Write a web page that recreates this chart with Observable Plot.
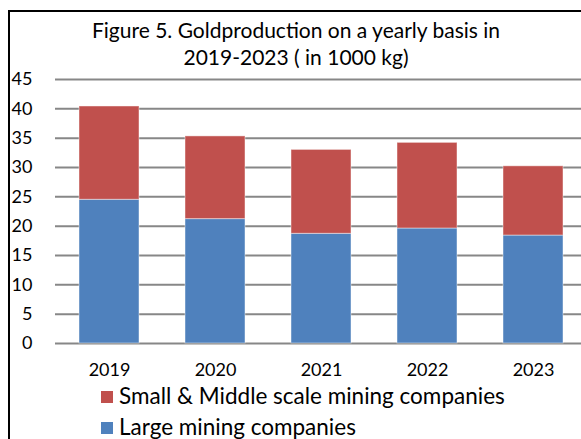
<!DOCTYPE html>
<html>
<head>
<meta charset="utf-8">
<script src="https://cdn.jsdelivr.net/npm/d3@7"></script>
<script src="https://cdn.jsdelivr.net/npm/@observablehq/plot@0.6"></script>
<style>
  html, body { margin: 0; padding: 0; background: #fff; overflow: hidden; }
  #wrap { position: relative; width: 581px; height: 439px; overflow: hidden; font-family: Lato, "Open Sans", sans-serif; color: #000; }
  #frame { position: absolute; left: 8px; top: 10px; width: 700px; height: 600px; border: 2px solid #000; box-sizing: border-box; }
  #title { position: absolute; left: 46px; top: 16px; width: 500px; text-align: center; font-size: 21px; line-height: 27px; white-space: nowrap; }
  #chart { position: absolute; left: 0; top: 60px; }
  #legend { position: absolute; left: 101px; top: 381.5px; font-size: 22.5px; }
  .row { display: flex; align-items: center; height: 31px; white-space: nowrap; }
  .sw { width: 12px; height: 12px; margin-right: 6px; flex: none; }
  .row span { position: relative; top: -1.5px; }
</style>
</head>
<body>
<div id="wrap">
  <div id="frame"></div>
  <div id="title"></div>
  <div id="chart"></div>
  <div id="legend"></div>
</div>
<script>
const titleLines = ["Figure 5. Goldproduction on a yearly basis in", "2019-2023 ( in 1000 kg)"];
const years = ["2019", "2020", "2021", "2022", "2023"];
const largeCompanies = [24.5, 21.2, 18.7, 19.6, 18.4];
const smallMiddleCompanies = [15.9, 14.1, 14.3, 14.6, 11.8];
const seriesNames = ["Small & Middle scale mining companies", "Large mining companies"];
const seriesColors = ["#C0504D", "#4F81BD"];
const yTicks = [0, 5, 10, 15, 20, 25, 30, 35, 40, 45];

document.getElementById("title").innerHTML = titleLines.map(t => `<div>${t}</div>`).join("");

const rows = [];
years.forEach((y, i) => {
  rows.push({year: y, series: seriesNames[1], value: largeCompanies[i]});
  rows.push({year: y, series: seriesNames[0], value: smallMiddleCompanies[i]});
});

const chart = Plot.plot({
  width: 581,
  height: 323,
  marginLeft: 55,
  marginRight: 0,
  marginTop: 19,
  marginBottom: 40,
  style: {fontFamily: "Lato, 'Open Sans', sans-serif", fontSize: "18px", color: "#000", background: "transparent"},
  x: {domain: years, range: [55, 586], paddingInner: 0.434, paddingOuter: 0.217, label: null},
  y: {domain: [0, 45], ticks: yTicks, label: null},
  color: {domain: seriesNames, range: seriesColors},
  marks: [
    Plot.ruleY(yTicks, {stroke: "#878787", strokeWidth: 2}),
    Plot.barY(rows, {x: "year", y: "value", fill: "series", order: [seriesNames[1], seriesNames[0]], stroke: "#fff", strokeOpacity: 0.45, strokeWidth: 1}),
    Plot.axisX({tickSize: 0, tickPadding: 20, fontSize: 18}),
    Plot.axisY(yTicks, {tickSize: 0, tickPadding: 23, fontSize: 18})
  ]
});
document.getElementById("chart").appendChild(chart);

document.getElementById("legend").innerHTML = seriesNames.map((s, i) =>
  `<div class="row"><div class="sw" style="background:${seriesColors[i]}"></div><span>${s}</span></div>`).join("");
</script>
</body>
</html>
